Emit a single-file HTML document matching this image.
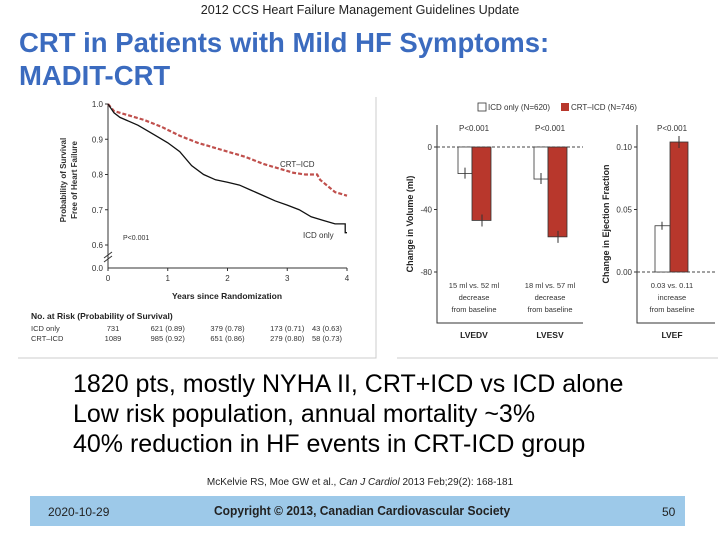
<!DOCTYPE html>
<html><head><meta charset="utf-8"><style>
body{margin:0;width:720px;height:540px;background:#fff;font-family:"Liberation Sans",sans-serif;position:relative;overflow:hidden}
.t{position:absolute;white-space:nowrap}
</style></head><body>
<div class="t" style="left:0;width:720px;text-align:center;top:3px;font-size:12.6px;color:#222">2012 CCS Heart Failure Management Guidelines Update</div>
<div class="t" style="left:19px;top:26px;font-size:27.5px;font-weight:bold;color:#3b6bbf;line-height:33px">CRT in Patients with Mild HF Symptoms:<br>MADIT-CRT</div>
<svg id="chart" width="720" height="540" style="position:absolute;left:0;top:0" font-family="Liberation Sans, sans-serif"></svg>
<div class="t" style="left:73px;top:369px;font-size:25px;line-height:30px;color:#000">1820 pts, mostly NYHA II, CRT+ICD vs ICD alone<br>Low risk population, annual mortality ~3%<br>40% reduction in HF events in CRT-ICD group</div>
<div class="t" style="left:0;width:720px;text-align:center;top:477px;font-size:10px;color:#222">McKelvie RS, Moe GW et al., <i>Can J Cardiol</i> 2013 Feb;29(2): 168-181</div>
<div style="position:absolute;left:30px;top:496px;width:655px;height:30px;background:#9dc9e9"></div>
<div class="t" style="left:48px;top:505px;font-size:12px;color:#222">2020-10-29</div>
<div class="t" style="left:214px;top:503px;font-size:13px;font-weight:bold;color:#222;transform:scaleX(0.925);transform-origin:left">Copyright © 2013, Canadian Cardiovascular Society</div>
<div class="t" style="left:662px;top:505px;font-size:12px;color:#222">50</div>
<script>
const kmIcdT=[0,0.1,0.2,0.5,0.8,1.0,1.2,1.4,1.6,1.8,2.0,2.2,2.4,2.6,2.8,3.0,3.2,3.4,3.6,3.8,3.97,3.97,4];
const kmIcdS=[1,0.975,0.962,0.94,0.91,0.89,0.865,0.825,0.80,0.785,0.778,0.77,0.755,0.74,0.725,0.713,0.70,0.68,0.67,0.66,0.66,0.635,0.635];
const kmCrtT=[0,0.1,0.3,0.6,0.9,1.2,1.5,1.8,2.0,2.3,2.6,2.9,3.1,3.3,3.5,3.55,3.8,4];
const kmCrtS=[1,0.98,0.97,0.955,0.935,0.91,0.89,0.875,0.865,0.85,0.83,0.815,0.805,0.80,0.80,0.785,0.75,0.74];
const kmYTicks=[0.6,0.7,0.8,0.9,1.0];
const kmXTicks=[0,1,2,3,4];
const volCats=["LVEDV","LVESV"];
const volIcd=[-17,-20.5];
const volCrt=[-47,-57.5];
const volTicks=[0,-40,-80];
const efIcd=[0.037];
const efCrt=[0.104];
const efTicks=[0.00,0.05,0.10];
const riskRows=[["ICD only","731","621 (0.89)","379 (0.78)","173 (0.71)","43 (0.63)"],["CRT–ICD","1089","985 (0.92)","651 (0.86)","279 (0.80)","58 (0.73)"]];
const svg=document.getElementById('chart');const NS='http://www.w3.org/2000/svg';
function el(tag,a,txt){const e=document.createElementNS(NS,tag);for(const k in a)e.setAttribute(k,a[k]);if(txt!==undefined)e.textContent=txt;svg.appendChild(e);return e;}
let b=el('path',{d:'M18,358 H376 V97',stroke:'#ccc',fill:'none'});
b=el('path',{d:'M397,358 H718',stroke:'#ccc',fill:'none'});
const kx=t=>108+t*(347-108)/4;
const ky=s=>245-(s-0.6)*352.5;
let a=el('path',{d:'M108,104 V268 H347',stroke:'#333',fill:'none','stroke-width':1});
kmYTicks.forEach(v=>{let t=el('line',{x1:105,x2:108,y1:ky(v),y2:ky(v),stroke:'#333'});
let l=el('text',{x:103,y:ky(v)+3,'font-size':8,'text-anchor':'end',fill:'#333'},v.toFixed(1));});
let l0=el('text',{x:103,y:271,'font-size':8,'text-anchor':'end',fill:'#333'},'0.0');
let br=el('path',{d:'M104,258 L112,252 M104,262 L112,256',stroke:'#333',fill:'none'});
kmXTicks.forEach(v=>{let t=el('line',{x1:kx(v),x2:kx(v),y1:268,y2:271,stroke:'#333'});
let l=el('text',{x:kx(v),y:281,'font-size':8,'text-anchor':'middle',fill:'#333'},v);});
function path(T,S){let d='M'+kx(T[0])+','+ky(S[0]);for(let i=1;i<T.length;i++){d+=' L'+kx(T[i])+','+ky(S[i]);}return d;}
let c1=el('path',{d:path(kmCrtT,kmCrtS),stroke:'#c0504d',fill:'none','stroke-width':2.2,'stroke-dasharray':'4,2'});
let c2=el('path',{d:path(kmIcdT,kmIcdS),stroke:'#111',fill:'none','stroke-width':1.3});
let tx;
tx=el('text',{x:280,y:167,'font-size':8,fill:'#333'},'CRT–ICD');
tx=el('text',{x:303,y:238,'font-size':8,fill:'#333'},'ICD only');
tx=el('text',{x:123,y:240,'font-size':7,fill:'#333'},'P<0.001');
tx=el('text',{x:0,y:0,'font-size':8,'font-weight':'bold','text-anchor':'middle',fill:'#333',transform:'translate(66,180) rotate(-90)'},'Probability of Survival');
tx=el('text',{x:0,y:0,'font-size':8,'font-weight':'bold','text-anchor':'middle',fill:'#333',transform:'translate(77,180) rotate(-90)'},'Free of Heart Failure');
tx=el('text',{x:227,y:299,'font-size':8.5,'font-weight':'bold','text-anchor':'middle',fill:'#222'},'Years since Randomization');
tx=el('text',{x:31,y:319,'font-size':8.5,'font-weight':'bold',fill:'#222'},'No. at Risk (Probability of Survival)');
riskRows.forEach((r,i)=>{const y=331+i*10;tx=el('text',{x:31,y:y,'font-size':7.5,fill:'#333'},r[0]);
for(let j=1;j<6;j++){tx=el('text',{x:kx(j-1)+(j==1?5:j==5?-5:0),y:y,'font-size':7.5,'text-anchor':j==5?'end':'middle',fill:'#333'},r[j]);}});
const vy=v=>147-v*62.5/40;
a=el('path',{d:'M437,125 V323 H583',stroke:'#333',fill:'none'});
let z=el('line',{x1:437,x2:583,y1:147,y2:147,stroke:'#444','stroke-dasharray':'3,2'});
volTicks.forEach(v=>{let t=el('line',{x1:434,x2:437,y1:vy(v),y2:vy(v),stroke:'#333'});
let l=el('text',{x:432,y:vy(v)+3,'font-size':8,'text-anchor':'end',fill:'#333'},v);});
tx=el('text',{x:0,y:0,'font-size':9,'font-weight':'bold','text-anchor':'middle',fill:'#222',transform:'translate(413,224) rotate(-90)'},'Change in Volume (ml)');
const volNotes=[["15 ml vs. 52 ml","decrease","from baseline"],["18 ml vs. 57 ml","decrease","from baseline"]];
volCats.forEach((c,i)=>{const x0=458+i*76;
let r=el('rect',{x:x0,y:vy(0),width:14,height:vy(volIcd[i])-vy(0),fill:'#fff',stroke:'#333','stroke-width':0.8});
r=el('rect',{x:x0+14,y:vy(0),width:19,height:vy(volCrt[i])-vy(0),fill:'#b8372c',stroke:'#333','stroke-width':0.8});
let e=el('line',{x1:x0+7,x2:x0+7,y1:vy(volIcd[i])-6,y2:vy(volIcd[i])+5,stroke:'#333'});
e=el('line',{x1:x0+24,x2:x0+24,y1:vy(volCrt[i])-6,y2:vy(volCrt[i])+6,stroke:'#333'});
tx=el('text',{x:x0+16,y:131,'font-size':8,'text-anchor':'middle',fill:'#333'},'P<0.001');
volNotes[i].forEach((s,k)=>{tx=el('text',{x:x0+16,y:288+k*12,'font-size':7.5,'text-anchor':'middle',fill:'#333'},s);});
tx=el('text',{x:x0+16,y:338,'font-size':8.5,'font-weight':'bold','text-anchor':'middle',fill:'#222'},c);});
const ey=v=>272-v*1250;
a=el('path',{d:'M637,125 V323 H715',stroke:'#333',fill:'none'});
z=el('line',{x1:637,x2:715,y1:272,y2:272,stroke:'#444','stroke-dasharray':'3,2'});
efTicks.forEach(v=>{let t=el('line',{x1:634,x2:637,y1:ey(v),y2:ey(v),stroke:'#333'});
let l=el('text',{x:632,y:ey(v)+3,'font-size':8,'text-anchor':'end',fill:'#333'},v.toFixed(2));});
tx=el('text',{x:0,y:0,'font-size':9,'font-weight':'bold','text-anchor':'middle',fill:'#222',transform:'translate(609,224) rotate(-90)'},'Change in Ejection Fraction');
let r=el('rect',{x:655,y:ey(efIcd[0]),width:15,height:ey(0)-ey(efIcd[0]),fill:'#fff',stroke:'#333','stroke-width':0.8});
r=el('rect',{x:670,y:ey(efCrt[0]),width:18,height:ey(0)-ey(efCrt[0]),fill:'#b8372c',stroke:'#333','stroke-width':0.8});
let e=el('line',{x1:662,x2:662,y1:ey(efIcd[0])-4,y2:ey(efIcd[0])+4,stroke:'#333'});
e=el('line',{x1:679,x2:679,y1:ey(efCrt[0])-6,y2:ey(efCrt[0])+6,stroke:'#333'});
tx=el('text',{x:672,y:131,'font-size':8,'text-anchor':'middle',fill:'#333'},'P<0.001');
["0.03 vs. 0.11","increase","from baseline"].forEach((s,k)=>{tx=el('text',{x:672,y:288+k*12,'font-size':7.5,'text-anchor':'middle',fill:'#333'},s);});
tx=el('text',{x:672,y:338,'font-size':8.5,'font-weight':'bold','text-anchor':'middle',fill:'#222'},'LVEF');
r=el('rect',{x:478,y:103,width:8,height:8,fill:'#fff',stroke:'#333','stroke-width':0.8});
tx=el('text',{x:488,y:110,'font-size':8,fill:'#333'},'ICD only (N=620)');
r=el('rect',{x:561,y:103,width:8,height:8,fill:'#b8372c'});
tx=el('text',{x:571,y:110,'font-size':8,fill:'#333'},'CRT–ICD (N=746)');
</script>
</body></html>
